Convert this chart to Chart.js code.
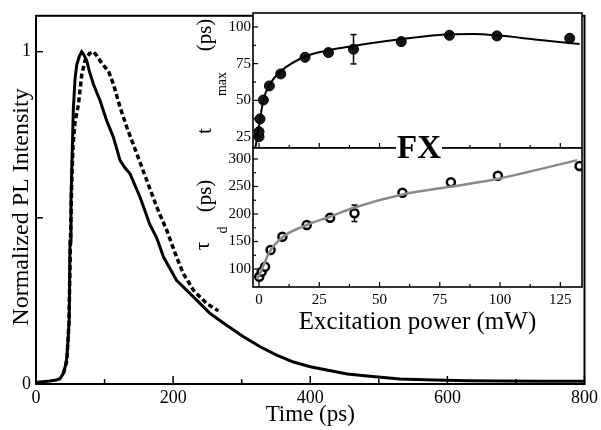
<!DOCTYPE html>
<html>
<head>
<meta charset="utf-8">
<script src="https://cdn.jsdelivr.net/npm/chart.js@4"></script>
<style>
  html, body { margin: 0; padding: 0; background: #fff; }
  #wrap { position: relative; width: 601px; height: 430px; }
  #wrap canvas { position: absolute; left: 0; top: 0; }
</style>
</head>
<body>
<div id="wrap">
  <canvas id="mainChart" width="601" height="430"></canvas>
  <canvas id="topInset" width="601" height="430"></canvas>
  <canvas id="bottomInset" width="601" height="430"></canvas>
</div>
<script>
// main panel: normalized PL transients
var solidTime = [0, 10, 20, 30, 35, 40, 43, 45, 47, 48.5, 49.6, 51, 52, 53.5, 54.5, 57, 59.4, 63, 66.7, 70, 74, 78, 83.7, 88, 93.4, 103, 112.8, 122.6, 130, 137, 151.8, 166, 176, 186, 205, 229.6, 254, 278, 302.6, 327, 351, 375.6, 400, 424, 454, 483, 531, 580, 630, 677, 740, 800]
var solidPL = [0.005, 0.007, 0.009, 0.012, 0.016, 0.032, 0.055, 0.08, 0.14, 0.2, 0.43, 0.55, 0.63, 0.75, 0.83, 0.92, 0.96, 0.985, 1.0, 0.99, 0.973, 0.94, 0.903, 0.88, 0.853, 0.793, 0.743, 0.673, 0.65, 0.633, 0.562, 0.48, 0.44, 0.382, 0.312, 0.262, 0.212, 0.177, 0.142, 0.112, 0.087, 0.066, 0.052, 0.042, 0.03, 0.024, 0.015, 0.012, 0.01, 0.009, 0.008, 0.008]
var dashTime = [40, 45, 48, 50, 52, 54, 57, 61.8, 66.7, 71.5, 78, 83.7, 88, 93.4, 100, 105.5, 112.8, 122.6, 132.4, 147, 161.6, 176, 190.8, 205, 215, 229.6, 249, 266]
var dashPL = [0.032, 0.07, 0.18, 0.4, 0.6, 0.72, 0.79, 0.84, 0.93, 0.973, 0.995, 1.0, 0.99, 0.973, 0.955, 0.943, 0.903, 0.833, 0.773, 0.693, 0.613, 0.533, 0.462, 0.382, 0.332, 0.282, 0.242, 0.22]
var mainXTicks = [0, 100, 200, 300, 400, 500, 600, 700, 800]
var mainXLabels = [0, 200, 400, 600, 800]
var mainYTicks = [0, 0.5, 1]
var mainYLabels = [0, 1]

// inset, top: t_max vs power
var powerT = [0, 0, 0.4, 1.8, 4.3, 9, 19.1, 28.8, 39.2, 59, 79, 98.7, 128.9]
var tMax = [25.2, 28.6, 37.3, 50.2, 59.8, 68, 79.3, 82.5, 84.8, 90, 94.3, 93.9, 92.3]
var tMaxErr = [0, 0, 0, 0, 0, 0, 0, 0, 10, 0, 0, 0, 0]
var fitPowerT = [-1.5, -0.5, 0.4, 1.8, 4.5, 9.3, 19.7, 29.3, 39, 58.5, 79, 89, 98.6, 116.6, 133]
var fitTMax = [18, 27, 36.6, 50.2, 61, 70.2, 80.2, 84.3, 87, 91.6, 95, 95.2, 94.3, 91.1, 88.4]

// inset, bottom: tau_d vs power
var powerD = [0.1, 1.1, 2.5, 4.8, 9.7, 19.8, 29.5, 39.6, 59.5, 79.6, 99.1, 133]
var tauD = [86, 95, 104, 134.5, 158.7, 180, 193.3, 201.3, 238.7, 257.6, 269.7, 287.3]
var tauDErr = [0, 0, 0, 0, 0, 0, 0, 15, 0, 0, 0, 0]
var fitPowerD = [-1, 0, 2, 4.4, 10, 19.8, 30, 39, 60, 80, 98.6, 132]
var fitTauD = [82, 88, 108, 131.5, 158.7, 180, 196, 211, 236, 250, 263.6, 298]

var insetXTicks = [0, 25, 50, 75, 100, 125]
var insetXMinor = [12.5, 37.5, 62.5, 87.5, 112.5]
var tMaxTicks = [25, 50, 75, 100]
var tMaxMinor = [37.5, 62.5, 87.5]
var tauTicks = [100, 150, 200, 250, 300]
var tauMinor = [125, 175, 225, 275]

Chart.defaults.font.family = "'Liberation Serif', 'Times New Roman', serif"
Chart.defaults.color = '#000'

var toXY = function(xs, ys){
  return xs.map(function(x, i){ return {x: x, y: ys[i]} })
}

var line = function(ctx, x1, y1, x2, y2){
  ctx.beginPath(); ctx.moveTo(x1, y1); ctx.lineTo(x2, y2); ctx.stroke()
}

var tickMarks = function(chart, axis, values, len){
  var ctx = chart.ctx, a = chart.chartArea, s = chart.scales[axis]
  values.forEach(function(v){
    var p = s.getPixelForValue(v)
    if (axis === 'x') line(ctx, p, a.bottom, p, a.bottom - len)
    else line(ctx, a.left, p, a.left + len, p)
  })
}

var errorBars = function(chart, xs, ys, errs){
  var ctx = chart.ctx, sx = chart.scales.x, sy = chart.scales.y
  ctx.save()
  ctx.strokeStyle = '#000'
  ctx.lineWidth = 1.5
  errs.forEach(function(e, i){
    if (!e) return
    var px = sx.getPixelForValue(xs[i])
    var top = sy.getPixelForValue(ys[i] + e), bot = sy.getPixelForValue(ys[i] - e)
    line(ctx, px, top, px, bot)
    line(ctx, px - 3, top, px + 3, top)
    line(ctx, px - 3, bot, px + 3, bot)
  })
  ctx.restore()
}

var rotText = function(ctx, text, x, y, size, weight){
  ctx.save()
  ctx.translate(x, y)
  ctx.rotate(-Math.PI / 2)
  ctx.font = (weight || 'normal') + ' ' + size + "px 'Liberation Serif', serif"
  ctx.fillStyle = '#000'
  ctx.textAlign = 'center'
  ctx.textBaseline = 'alphabetic'
  ctx.fillText(text, 0, 0)
  ctx.restore()
}

var whiteArea = {
  id: 'whiteArea',
  beforeDraw: function(chart){
    var a = chart.chartArea
    chart.ctx.save()
    chart.ctx.fillStyle = '#fff'
    chart.ctx.fillRect(a.left, a.top, a.width, a.height)
    chart.ctx.restore()
  }
}

var fixedWidth = function(w){ return function(s){ s.width = w } }
var fixedHeight = function(h){ return function(s){ s.height = h } }
var setTicks = function(values){
  return function(s){ s.ticks = values.map(function(v){ return {value: v} }) }
}

// ---------- main chart ----------
var ctx = document.getElementById('mainChart')

var mainChart = new Chart(ctx, {
  type: 'line',
  data: {
    datasets: [{
      data: toXY(solidTime, solidPL),
      borderColor: '#000',
      borderWidth: 3,
      pointRadius: 0,
      tension: 0
    }, {
      data: toXY(dashTime, dashPL),
      borderColor: '#000',
      borderWidth: 3.5,
      borderDash: [5, 3],
      pointRadius: 0,
      tension: 0
    }]
  },
  options: {
    responsive: false,
    animation: false,
    devicePixelRatio: 1,
    layout: { padding: { left: 0, top: 15, right: 16, bottom: 0 } },
    plugins: { legend: { display: false }, tooltip: { enabled: false } },
    scales: {
      x: {
        type: 'linear', min: 0, max: 800,
        grid: { display: false, drawTicks: false },
        border: { display: false },
        afterBuildTicks: setTicks(mainXLabels),
        ticks: { font: { size: 18 }, padding: 3, maxRotation: 0, autoSkip: false },
        title: { display: true, text: 'Time (ps)', font: { size: 23 }, padding: { top: 0, bottom: 1 } },
        afterFit: fixedHeight(46)
      },
      y: {
        type: 'linear', min: 0, max: 1.108,
        grid: { display: false, drawTicks: false },
        border: { display: false },
        afterBuildTicks: setTicks(mainYLabels),
        ticks: { font: { size: 18 }, padding: 5 },
        afterFit: fixedWidth(36)
      }
    }
  },
  plugins: [{
    id: 'mainFrame',
    afterDraw: function(chart){
      var c = chart.ctx, a = chart.chartArea
      c.save()
      c.strokeStyle = '#000'
      c.lineWidth = 2
      c.strokeRect(a.left, a.top, a.width, a.height)
      c.lineWidth = 1.5
      tickMarks(chart, 'x', mainXTicks.filter(function(v){ return v % 200 === 0 }), 8)
      tickMarks(chart, 'x', mainXTicks.filter(function(v){ return v % 200 !== 0 }), 5)
      tickMarks(chart, 'y', mainYTicks, 7)
      c.restore()
      rotText(c, 'Normalized PL Intensity', 28, 207, 24)
    }
  }]
})

// ---------- inset, upper panel ----------
var ctxTop = document.getElementById('topInset')

var topInset = new Chart(ctxTop, {
  type: 'line',
  data: {
    datasets: [{
      data: toXY(fitPowerT, fitTMax),
      borderColor: '#000',
      borderWidth: 2,
      pointRadius: 0,
      cubicInterpolationMode: 'monotone'
    }, {
      data: toXY(powerT, tMax),
      showLine: false,
      pointRadius: 5,
      pointBackgroundColor: '#151515',
      pointBorderColor: '#000',
      pointBorderWidth: 1
    }]
  },
  options: {
    responsive: false,
    animation: false,
    devicePixelRatio: 1,
    layout: { padding: { left: 193, top: 13, right: 19, bottom: 282 } },
    plugins: { legend: { display: false }, tooltip: { enabled: false } },
    scales: {
      x: { type: 'linear', min: -2.5, max: 134, display: false },
      y: {
        type: 'linear', min: 17.5, max: 109.5,
        grid: { display: false, drawTicks: false },
        border: { display: false },
        afterBuildTicks: setTicks(tMaxTicks),
        ticks: { font: { size: 15 }, padding: 2 },
        afterFit: fixedWidth(60)
      }
    }
  },
  plugins: [whiteArea, {
    id: 'topFrame',
    beforeDatasetsDraw: function(chart){ errorBars(chart, powerT, tMax, tMaxErr) },
    afterDraw: function(chart){
      var c = chart.ctx, a = chart.chartArea
      c.save()
      c.strokeStyle = '#000'
      c.lineWidth = 1.6
      c.strokeRect(a.left, a.top, a.width, a.height)
      c.lineWidth = 1.2
      tickMarks(chart, 'x', insetXTicks, 5)
      tickMarks(chart, 'x', insetXMinor, 3)
      tickMarks(chart, 'y', tMaxTicks, 5)
      tickMarks(chart, 'y', tMaxMinor, 3)
      c.restore()
      rotText(c, 't', 211, 131, 21)
      rotText(c, 'max', 226, 84, 14)
      rotText(c, '(ps)', 211, 35, 21)
    }
  }]
})

// ---------- inset, lower panel ----------
var ctxBottom = document.getElementById('bottomInset')

var bottomInset = new Chart(ctxBottom, {
  type: 'line',
  data: {
    datasets: [{
      data: toXY(fitPowerD, fitTauD),
      borderColor: '#8a8a8a',
      borderWidth: 2.5,
      pointRadius: 0,
      cubicInterpolationMode: 'monotone'
    }, {
      data: toXY(powerD, tauD),
      showLine: false,
      pointRadius: 4,
      pointBackgroundColor: '#fff',
      pointBorderColor: '#000',
      pointBorderWidth: 2.5
    }]
  },
  options: {
    responsive: false,
    animation: false,
    devicePixelRatio: 1,
    layout: { padding: { left: 193, top: 148, right: 19, bottom: 80 } },
    plugins: { legend: { display: false }, tooltip: { enabled: false } },
    scales: {
      x: {
        type: 'linear', min: -2.5, max: 134,
        grid: { display: false, drawTicks: false },
        border: { display: false },
        afterBuildTicks: setTicks(insetXTicks),
        ticks: { font: { size: 15 }, padding: 4, maxRotation: 0, autoSkip: false },
        title: { display: true, text: 'Excitation power (mW)', font: { size: 25 }, padding: { top: 0, bottom: 13 } },
        afterFit: fixedHeight(63)
      },
      y: {
        type: 'linear', min: 67.3, max: 320,
        grid: { display: false, drawTicks: false },
        border: { display: false },
        afterBuildTicks: setTicks(tauTicks),
        ticks: { font: { size: 15 }, padding: 2 },
        afterFit: fixedWidth(60)
      }
    }
  },
  plugins: [whiteArea, {
    id: 'bottomFrame',
    beforeDatasetsDraw: function(chart){ errorBars(chart, powerD, tauD, tauDErr) },
    afterDraw: function(chart){
      var c = chart.ctx, a = chart.chartArea
      c.save()
      c.strokeStyle = '#000'
      c.lineWidth = 1.6
      c.strokeRect(a.left, a.top, a.width, a.height)
      c.lineWidth = 1.2
      tickMarks(chart, 'x', insetXTicks, 5)
      tickMarks(chart, 'x', insetXMinor, 3)
      tickMarks(chart, 'y', tauTicks, 5)
      tickMarks(chart, 'y', tauMinor, 3)
      // FX label sitting on the panel divider
      var cx = (a.left + a.right) / 2 + 1.5
      c.fillStyle = '#fff'
      c.fillRect(cx - 23, a.top - 13, 46, 26)
      c.fillStyle = '#000'
      c.font = "bold 33px 'Liberation Serif', serif"
      c.textAlign = 'center'
      c.textBaseline = 'middle'
      c.fillText('FX', cx, a.top + 1)
      c.restore()
      rotText(c, '\u03c4', 209, 246, 21)
      rotText(c, 'd', 227, 230, 14)
      rotText(c, '(ps)', 211, 196, 21)
    }
  }]
})
</script>
</body>
</html>
